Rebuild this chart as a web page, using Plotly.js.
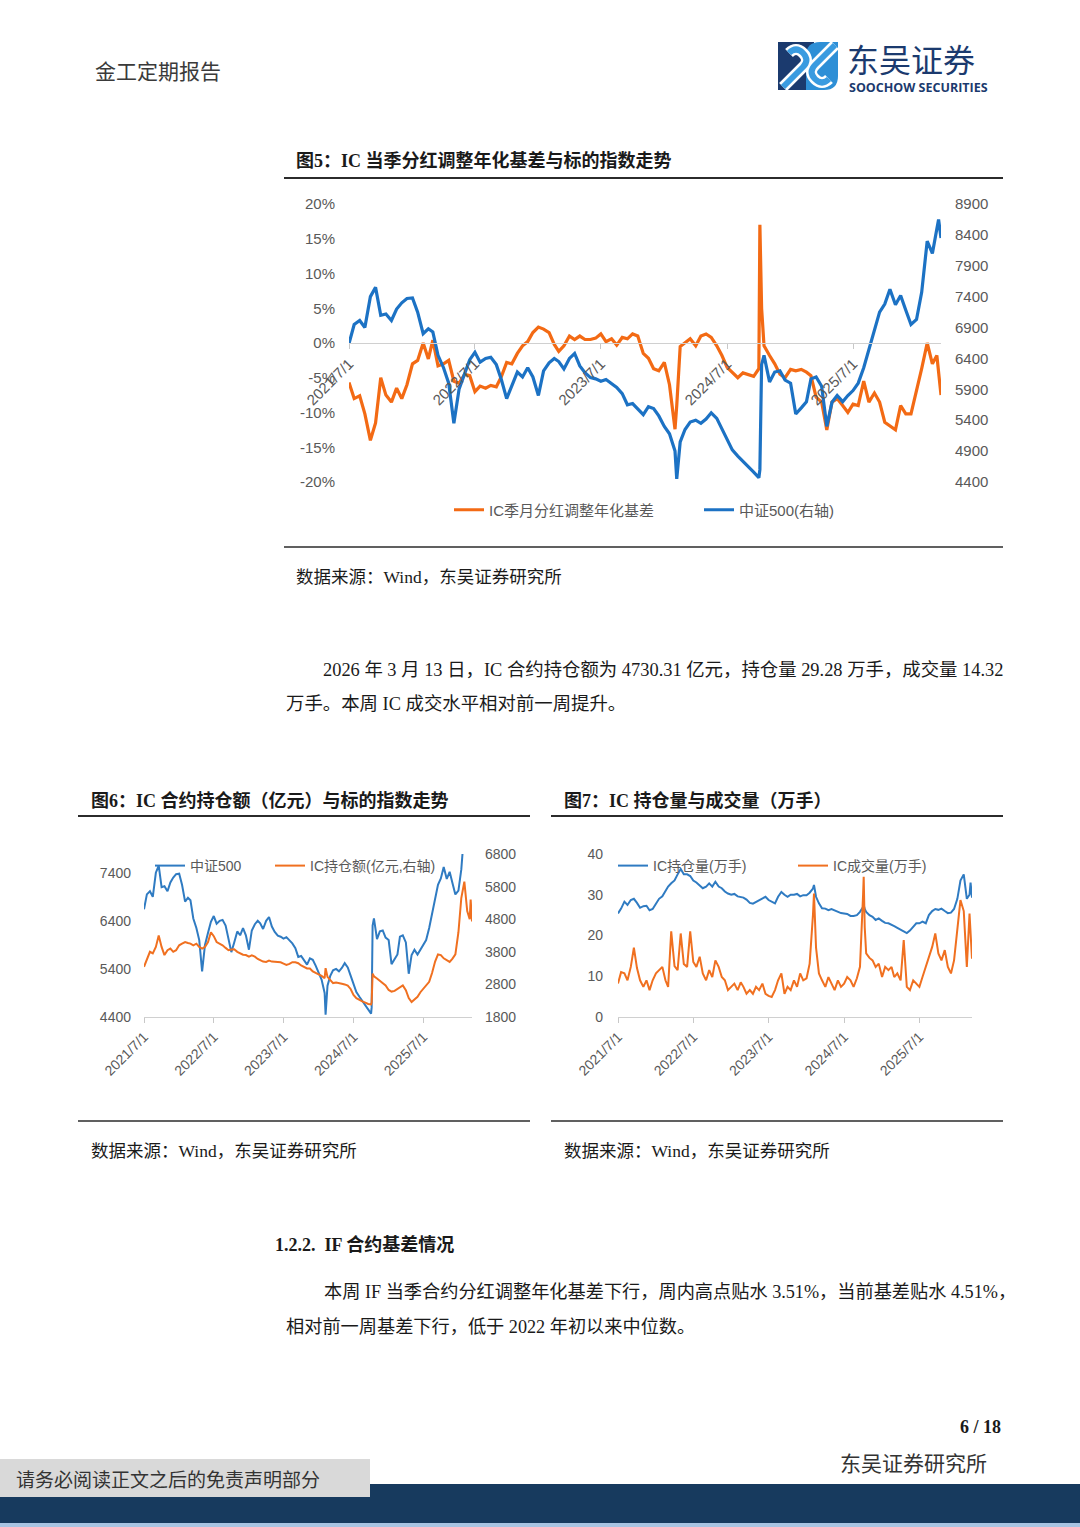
<!DOCTYPE html>
<html><head><meta charset="utf-8">
<script src="https://cdn.plot.ly/plotly-3.0.1.min.js"></script>
<style>html,body{margin:0;padding:0;background:#fff;}#chart{width:1080px;height:1527px;}</style>
</head><body><div id="chart"></div>
<script>
// ---------- data ----------
const dates = [
 '2021-07-01','2021-07-16','2021-08-01','2021-08-16','2021-09-01','2021-09-16','2021-10-01','2021-10-16','2021-11-01','2021-11-16','2021-12-01','2021-12-16',
 '2022-01-01','2022-01-16','2022-02-01','2022-02-16','2022-03-01','2022-03-16','2022-04-01','2022-04-16','2022-05-01','2022-05-16','2022-06-01','2022-06-16',
 '2022-07-01','2022-07-16','2022-08-01','2022-08-16','2022-09-01','2022-09-16','2022-10-01','2022-10-16','2022-11-01','2022-11-16','2022-12-01','2022-12-16',
 '2023-01-01','2023-01-16','2023-02-01','2023-02-16','2023-03-01','2023-03-16','2023-04-01','2023-04-16','2023-05-01','2023-05-16','2023-06-01','2023-06-16',
 '2023-07-01','2023-07-16','2023-08-01','2023-08-16','2023-09-01','2023-09-16','2023-10-01','2023-10-16','2023-11-01','2023-11-16','2023-12-01','2023-12-16',
 '2024-01-01','2024-01-16','2024-02-01','2024-02-06','2024-02-16','2024-03-01','2024-03-16','2024-04-01','2024-04-16','2024-05-01','2024-05-16','2024-06-01','2024-06-16',
 '2024-07-01','2024-07-16','2024-08-01','2024-08-16','2024-09-01','2024-09-16','2024-10-01','2024-10-04','2024-10-09','2024-10-16','2024-11-01','2024-11-16','2024-12-01','2024-12-16',
 '2025-01-01','2025-01-16','2025-02-01','2025-02-16','2025-03-01','2025-03-16','2025-04-01','2025-04-16','2025-05-01','2025-05-16','2025-06-01','2025-06-16',
 '2025-07-01','2025-07-16','2025-08-01','2025-08-16','2025-09-01','2025-09-16','2025-10-01','2025-10-16','2025-11-01','2025-11-16','2025-12-01','2025-12-16',
 '2026-01-01','2026-01-16','2026-02-01','2026-02-16','2026-03-01','2026-03-06','2026-03-13'
];
// 中证500 index
const csi500 = [
 6640,6950,7015,6900,7400,7550,7100,7120,7015,7200,7300,7370,
 7380,7150,6800,6880,6830,6450,6250,6000,5350,5900,6150,6380,
 6500,6340,6400,6420,6300,6050,5750,5950,6180,6100,6250,6100,
 5800,6200,6330,6400,6350,6230,6400,6480,6280,6170,6090,6070,
 6030,6060,5990,5930,5830,5650,5670,5580,5490,5620,5590,5470,
 5300,5180,4900,4450,5050,5250,5370,5400,5350,5420,5520,5430,5260,
 5080,4920,4820,4740,4640,4560,4470,4600,6300,6450,6020,6180,6200,6050,
 6000,5500,5600,5700,6070,6100,5950,5300,5690,5800,5700,5800,
 5880,6000,6250,6550,6850,7150,7280,7520,7270,7420,7180,6950,
 7030,7470,8300,8100,8500,8650,8350
];
// IC 季月分红调整年化基差 (%)
const icBasis = [
 -5.7,-8.0,-7.6,-10.2,-14.0,-11.5,-5.0,-7.5,-8.5,-6.5,-8.0,-6.0,
 -3.0,-2.5,0.0,-2.3,0.4,-3.3,-3.0,-2.5,-5.5,-5.8,-4.5,-4.7,
 -7.0,-6.2,-6.5,-6.1,-6.3,-4.8,-2.8,-3.0,-1.5,-0.4,0.2,1.5,
 2.3,2.0,1.5,-0.2,-1.2,-0.4,1.0,0.5,1.0,0.5,0.5,0.7,
 1.3,0.2,0.6,-0.3,0.8,0.6,1.3,1.0,-1.5,-2.2,-3.7,-4.0,
 -2.8,-6.0,-12.4,-9.0,-0.5,0.1,0.6,-0.4,1.0,1.3,0.8,-0.4,-1.8,
 -3.5,-4.3,-5.0,-4.3,-4.5,-4.8,-3.7,17.0,5.0,-0.4,-1.8,-3.0,-4.5,-5.0,
 -3.8,-4.0,-3.8,-4.2,-4.7,-7.8,-8.5,-12.5,-8.5,-8.0,-9.0,-10.0,
 -8.8,-9.0,-5.5,-8.5,-7.2,-8.5,-11.4,-12.0,-12.5,-9.0,-10.2,-10.2,
 -7.0,-3.7,0.0,-3.0,-1.8,-4.2,-7.5
];
// IC 持仓额 (亿元)
const icOiAmount = [
 3340,3550,3800,3750,3950,4300,3950,3700,3850,3900,3800,3850,
 4000,4050,4100,4070,4050,4000,4050,3950,3900,3950,4100,4400,
 4280,4100,4050,4000,3920,3850,3870,3880,3800,3750,3710,3700,
 3650,3690,3650,3580,3540,3500,3490,3530,3500,3490,3490,3480,
 3440,3400,3430,3480,3480,3450,3380,3340,3290,3290,3200,3150,
 3110,3060,2990,3300,3030,2940,2840,2860,2830,2820,2800,2760,2660,
 2480,2380,2320,2280,2240,2200,2190,2250,3130,3050,2980,2900,2820,2770,
 2630,2580,2600,2650,2700,2770,2620,2380,2260,2330,2420,2560,
 2670,2770,2880,3150,3500,3720,3700,3600,3540,3490,3590,3720,
 4400,5450,5950,5050,4800,5400,4730.31
];
// IC 持仓量 (万手)
const icOiVolume = [
 25.4,26.6,28.3,27.5,28.7,29.0,28.0,26.8,27.2,27.3,26.2,26.5,
 27.8,29.0,29.6,31.1,32.0,32.8,33.5,35.0,36.3,35.0,35.0,34.6,
 33.5,33.0,32.2,31.6,32.0,32.8,32.0,33.2,32.0,31.6,30.8,30.3,
 30.0,30.2,29.6,29.5,29.3,28.8,28.0,27.8,28.2,28.8,29.1,29.5,
 28.7,28.3,27.9,29.5,30.7,30.0,29.5,30.0,30.0,30.2,29.6,29.9,
 29.9,30.5,31.5,32.4,29.5,27.9,26.7,26.6,26.2,26.5,26.2,25.9,25.5,
 25.4,25.3,24.8,24.8,25.0,25.8,27.0,27.5,26.5,25.8,25.0,24.6,23.8,24.2,
 23.6,23.1,23.0,22.7,22.3,21.9,21.5,21.1,20.6,21.2,22.0,23.0,
 23.0,23.4,23.0,25.0,26.0,26.5,26.3,26.6,26.0,25.5,25.6,26.5,
 29.0,33.5,35.0,29.0,30.0,33.0,29.28
];
// IC 成交量 (万手)
const icVolume = [
 8.2,11.0,10.7,9.0,12.3,17.0,12.0,9.0,7.4,9.0,6.6,9.0,
 10.7,11.5,12.3,9.0,7.4,21.0,12.5,11.5,20.5,13.0,12.3,21.0,
 13.5,12.3,14.8,10.7,9.0,11.5,9.8,13.9,12.3,9.8,9.0,6.6,
 7.4,8.2,6.6,8.5,7.4,5.7,6.6,5.7,7.4,6.6,8.2,5.7,
 5.2,4.9,6.6,9.0,10.7,5.7,7.4,6.6,9.0,7.4,10.7,9.0,
 9.5,13.1,25.0,30.3,17.0,10.7,9.0,7.4,9.8,8.2,6.6,9.0,7.4,
 8.2,9.8,9.0,7.4,9.5,12.3,30.0,34.4,22.0,15.6,14.5,13.9,12.3,13.1,
 9.8,12.3,11.5,12.3,9.8,10.7,9.0,18.9,7.4,6.6,9.0,8.2,
 7.4,9.8,12.3,15.0,17.2,20.5,15.6,13.9,16.4,12.3,10.7,13.9,
 22.1,28.7,26.0,12.3,25.4,21.3,14.32
];
const yearTicks = ['2021-07-01','2022-07-01','2023-07-01','2024-07-01','2025-07-01'];
const yearTickText = ['2021/7/1','2022/7/1','2023/7/1','2024/7/1','2025/7/1'];
const basisTicks = [-20,-15,-10,-5,0,5,10,15,20];
const basisTickText = ['-20%','-15%','-10%','-5%','0%','5%','10%','15%','20%'];
const idx5Ticks = [4400,4900,5400,5900,6400,6900,7400,7900,8400,8900];
const idx6Ticks = [4400,5400,6400,7400];
const amt6Ticks = [1800,2800,3800,4800,5800,6800];
const vol7Ticks = [0,10,20,30,40];

// ---------- helpers ----------
const W = 1080, H = 1527;
const fx = p => p / W;
const fy = p => 1 - p / H;
const SANS = '"Liberation Sans", Arial, "Noto Sans CJK SC", sans-serif';
const SERIF = '"Liberation Serif", "Times New Roman", "Noto Sans CJK SC", serif';
const CJK = '"Noto Sans CJK SC", "Liberation Sans", sans-serif';
const ORANGE = '#F36A14', BLUE = '#1C72C4';
const ORANGE2 = '#F07020', BLUE2 = '#2F7BC2';
const GRAYTXT = '#595959';
const NAVY = '#1B3A6E';

function txt(text, x, y, size, o = {}) {
  return {text, x: fx(x), y: fy(y), xref: 'paper', yref: 'paper', showarrow: false,
    xanchor: o.anchor || 'left', yanchor: 'middle',
    font: {family: o.family || SERIF, size, color: o.color || '#1a1a1a', weight: o.weight || 'normal'}};
}
function hline(x0, x1, y, w, c) {
  return {type: 'line', xref: 'paper', yref: 'paper', x0: fx(x0), x1: fx(x1), y0: fy(y), y1: fy(y),
    line: {color: c || '#2b2b2b', width: w}};
}
function rect(x0, y0, x1, y1, c) {
  return {type: 'rect', xref: 'paper', yref: 'paper', x0: fx(x0), x1: fx(x1), y0: fy(y1), y1: fy(y0),
    fillcolor: c, line: {width: 0}, layer: 'below'};
}
function pth(s, fill, stroke, w) {
  const d = s.replace(/(-?[\d.]+),(-?[\d.]+)/g, (m, a, b) => fx(+a) + ',' + fy(+b));
  return {type: 'path', xref: 'paper', yref: 'paper', path: d,
    fillcolor: fill || 'rgba(0,0,0,0)', line: {color: stroke || 'rgba(0,0,0,0)', width: w || 0}};
}
function leg(xpx, ypx, size) {
  return {x: fx(xpx), y: fy(ypx), xref: 'paper', yref: 'paper', xanchor: 'left', yanchor: 'middle',
    orientation: 'h', bgcolor: 'rgba(0,0,0,0)', borderwidth: 0,
    font: {family: SANS, size, color: GRAYTXT}};
}

// ---------- traces ----------
const traces = [
  {x: dates, y: icBasis, xaxis: 'x', yaxis: 'y', type: 'scatter', mode: 'lines',
   name: 'IC季月分红调整年化基差', legend: 'legend', line: {color: ORANGE, width: 3.2}},
  {x: dates, y: csi500, xaxis: 'x', yaxis: 'y2', type: 'scatter', mode: 'lines',
   name: '中证500(右轴)', legend: 'legend2', line: {color: BLUE, width: 3.2}},
  {x: dates, y: csi500, xaxis: 'x2', yaxis: 'y3', type: 'scatter', mode: 'lines',
   name: '中证500', legend: 'legend3', line: {color: BLUE2, width: 2}},
  {x: dates, y: icOiAmount, xaxis: 'x2', yaxis: 'y4', type: 'scatter', mode: 'lines',
   name: 'IC持仓额(亿元,右轴)', legend: 'legend4', line: {color: ORANGE2, width: 2}},
  {x: dates, y: icOiVolume, xaxis: 'x3', yaxis: 'y5', type: 'scatter', mode: 'lines',
   name: 'IC持仓量(万手)', legend: 'legend5', line: {color: BLUE2, width: 2}},
  {x: dates, y: icVolume, xaxis: 'x3', yaxis: 'y5', type: 'scatter', mode: 'lines',
   name: 'IC成交量(万手)', legend: 'legend6', line: {color: ORANGE2, width: 2}}
];

const xCommon = {type: 'date', range: ['2021-07-01', '2026-03-13'], tickvals: yearTicks, ticktext: yearTickText,
  tickangle: -45, showgrid: false, zeroline: false, showline: true, linecolor: '#d0d0d0', linewidth: 1.2,
  ticks: 'outside', ticklen: 5, tickcolor: '#c8c8c8', fixedrange: true};
const yCommon = {showgrid: false, zeroline: false, showline: false, ticks: '', fixedrange: true};

const layout = {
  width: W, height: H, autosize: false, margin: {l: 0, r: 0, t: 0, b: 0, pad: 0},
  paper_bgcolor: '#ffffff', plot_bgcolor: 'rgba(0,0,0,0)', showlegend: true, hovermode: false,
  xaxis: Object.assign({}, xCommon, {domain: [fx(349), fx(941)], anchor: 'free', position: fy(343),
    tickfont: {family: SANS, size: 15, color: GRAYTXT}}),
  yaxis: Object.assign({}, yCommon, {domain: [fy(482), fy(204)], range: [-20, 20], anchor: 'x',
    tickvals: basisTicks, ticktext: basisTickText, ticklabelstandoff: 13,
    tickfont: {family: SANS, size: 15, color: GRAYTXT}}),
  yaxis2: Object.assign({}, yCommon, {overlaying: 'y', side: 'right', anchor: 'x', range: [4400, 8900],
    tickvals: idx5Ticks, ticklabelstandoff: 13, tickfont: {family: SANS, size: 15, color: GRAYTXT}}),
  xaxis2: Object.assign({}, xCommon, {domain: [fx(144), fx(472)], anchor: 'y3',
    tickfont: {family: SANS, size: 14, color: GRAYTXT}}),
  yaxis3: Object.assign({}, yCommon, {domain: [fy(1017), fy(854)], range: [4400, 7790], anchor: 'x2',
    tickvals: idx6Ticks, ticklabelstandoff: 12, tickfont: {family: SANS, size: 14, color: GRAYTXT}}),
  yaxis4: Object.assign({}, yCommon, {overlaying: 'y3', side: 'right', anchor: 'x2', range: [1800, 6800],
    tickvals: amt6Ticks, ticklabelstandoff: 12, tickfont: {family: SANS, size: 14, color: GRAYTXT}}),
  xaxis3: Object.assign({}, xCommon, {domain: [fx(618), fx(972)], anchor: 'y5',
    tickfont: {family: SANS, size: 14, color: GRAYTXT}}),
  yaxis5: Object.assign({}, yCommon, {domain: [fy(1017), fy(854)], range: [0, 40], anchor: 'x3',
    tickvals: vol7Ticks, ticklabelstandoff: 14, tickfont: {family: SANS, size: 14, color: GRAYTXT}}),
  legend: leg(449, 510, 15),
  legend2: leg(699, 510, 15),
  legend3: leg(150, 866, 14),
  legend4: leg(270, 866, 14),
  legend5: leg(613, 866, 14),
  legend6: leg(793, 866, 14),
  shapes: [
    rect(0, 1484, 1080, 1523, '#173A5E'),
    rect(0, 1523, 1080, 1527, '#A8C4E2'),
    rect(0, 1459, 370, 1497, '#D9D9D9'),
    hline(284, 1003, 178, 2), hline(284, 1003, 547, 1.5),
    hline(78, 530, 816, 2), hline(78, 530, 1121, 1.5),
    hline(551, 1003, 816, 2), hline(551, 1003, 1121, 1.5),
    // logo
    pth('M778,42 L814,42 L814,90 L778,90 Z', NAVY),
    pth('M806,90 L824,90 Q838,90 838,76 L838,42 L820,42 Q806,42 806,56 Z', '#2E8FD6'),
    pth('M783,87 L803,67 Q810,60 803,53 Q796,46 789,53', null, '#ffffff', 11),
    pth('M835,45 L815,65 Q808,72 815,79 Q822,86 829,79', null, '#ffffff', 11),
    pth('M783,87 L803,67 Q810,60 803,53 Q796,46 789,53', null, '#3A9BE0', 6),
    pth('M835,45 L815,65 Q808,72 815,79 Q822,86 829,79', null, '#3A9BE0', 6)
  ],
  annotations: [
    txt('金工定期报告', 93, 70, 21, {family: CJK, color: '#3a3a3a'}),
    txt('东吴证券', 845, 58, 32, {family: CJK, color: NAVY}),
    txt('SOOCHOW SECURITIES', 847, 87.5, 12.5, {family: '"Open Sans", "DejaVu Sans", sans-serif', color: NAVY, weight: 'bold'}),
    txt('图5：IC 当季分红调整年化基差与标的指数走势', 294, 160, 18, {weight: 'bold'}),
    txt('数据来源：Wind，东吴证券研究所', 294, 577, 17.5),
    txt('2026 年 3 月 13 日，IC 合约持仓额为 4730.31 亿元，持仓量 29.28 万手，成交量 14.32', 321, 670, 18.4),
    txt('万手。本周 IC 成交水平相对前一周提升。', 284, 704, 18.4),
    txt('图6：IC 合约持仓额（亿元）与标的指数走势', 89, 800, 18, {weight: 'bold'}),
    txt('图7：IC 持仓量与成交量（万手）', 562, 800, 18, {weight: 'bold'}),
    txt('数据来源：Wind，东吴证券研究所', 89, 1151, 17.5),
    txt('数据来源：Wind，东吴证券研究所', 562, 1151, 17.5),
    txt('1.2.2.  IF 合约基差情况', 273, 1244, 18, {weight: 'bold'}),
    txt('本周 IF 当季合约分红调整年化基差下行，周内高点贴水 3.51%，当前基差贴水 4.51%，', 322, 1292, 18.2),
    txt('相对前一周基差下行，低于 2022 年初以来中位数。', 284, 1327, 18.2),
    txt('6 / 18', 1003, 1427, 18, {anchor: 'right', weight: 'bold'}),
    txt('东吴证券研究所', 838, 1462, 21, {family: CJK, color: '#333333'}),
    txt('请务必阅读正文之后的免责声明部分', 14, 1478, 19, {family: CJK, color: '#333333'})
  ]
};

Plotly.newPlot('chart', traces, layout, {staticPlot: true, displayModeBar: false});
</script>
</body></html>
